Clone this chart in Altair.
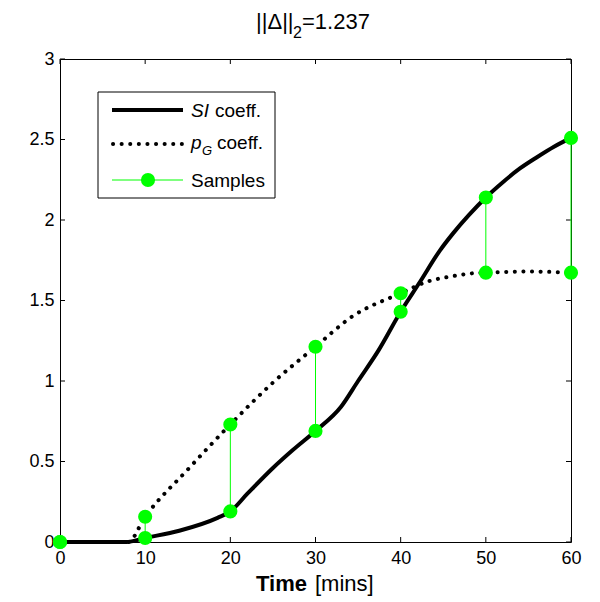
import altair as alt
import pandas as pd

# SI coefficient curve (solid)
si_t = [0, 7.8, 10, 14, 18.5, 20, 22, 25, 27.3, 30, 33, 35, 37.4, 40, 42.2, 44.6, 46.2, 48, 50, 52, 54, 56, 58, 60]
si_v = [0, 0, 0.025, 0.07, 0.15, 0.19, 0.30, 0.46, 0.57, 0.69, 0.84, 1.0, 1.19, 1.43, 1.61, 1.81, 1.92, 2.03, 2.14, 2.235, 2.32, 2.39, 2.455, 2.51]

# pG coefficient curve (dotted)
pg_t = [0, 8, 10, 15, 20, 25, 30, 34.3, 40, 43.3, 46, 48.7, 50, 55, 60]
pg_v = [0, 0, 0.157, 0.45, 0.73, 0.99, 1.213, 1.40, 1.545, 1.62, 1.65, 1.67, 1.673, 1.68, 1.673]

# Samples
sample_t = [0, 10, 20, 30, 40, 50, 60]
sample_si = [0, 0.025, 0.19, 0.69, 1.43, 2.14, 2.51]
sample_pg = [0, 0.157, 0.73, 1.213, 1.545, 1.673, 1.673]

x_ticks = [0, 10, 20, 30, 40, 50, 60]
y_ticks = [0, 0.5, 1, 1.5, 2, 2.5, 3]

W, H = 511, 483
FONT = "Liberation Sans"
GREEN = "#00ff00"

xs = alt.Scale(domain=[0, 60], nice=False)
ys = alt.Scale(domain=[0, 3], nice=False)

si_df = pd.DataFrame({"t": si_t, "v": si_v})
pg_df = pd.DataFrame({"t": pg_t, "v": pg_v})
samp_df = pd.DataFrame({"t": sample_t, "si": sample_si, "pg": sample_pg})
pts_df = pd.DataFrame({"t": sample_t + sample_t, "v": sample_si + sample_pg})
xt_df = pd.DataFrame({"t": x_ticks})
yt_df = pd.DataFrame({"v": y_ticks})
one = pd.DataFrame({"a": [0]})

base_axes = alt.Chart(si_df).mark_line(strokeWidth=0, opacity=0).encode(
    x=alt.X("t:Q", scale=xs, axis=alt.Axis(values=x_ticks, title=None, labelPadding=7,
                                           format="~g", labelFlush=False)),
    y=alt.Y("v:Q", scale=ys, axis=alt.Axis(values=y_ticks, title=None, labelPadding=6,
                                           format="~g", labelFlush=False)),
)

si_line = alt.Chart(si_df).mark_line(color="black", strokeWidth=4, interpolate="monotone").encode(
    x=alt.X("t:Q", scale=xs), y=alt.Y("v:Q", scale=ys)
)
pg_line = alt.Chart(pg_df).mark_line(
    color="black", strokeWidth=4, strokeDash=[0.1, 8.5], strokeCap="round", interpolate="monotone"
).encode(x=alt.X("t:Q", scale=xs), y=alt.Y("v:Q", scale=ys))

stems = alt.Chart(samp_df).mark_rule(color=GREEN, strokeWidth=1).encode(
    x=alt.X("t:Q", scale=xs), y=alt.Y("si:Q", scale=ys), y2="pg:Q"
)
pts = alt.Chart(pts_df).mark_circle(color=GREEN, opacity=1, size=200).encode(
    x=alt.X("t:Q", scale=xs), y=alt.Y("v:Q", scale=ys)
)

# inward ticks
tk = 5
xb = alt.Chart(xt_df).mark_rule(color="black", strokeWidth=1).encode(
    x=alt.X("t:Q", scale=xs), y=alt.value(H), y2=alt.value(H - tk))
xtp = alt.Chart(xt_df).mark_rule(color="black", strokeWidth=1).encode(
    x=alt.X("t:Q", scale=xs), y=alt.value(0), y2=alt.value(tk))
yl = alt.Chart(yt_df).mark_rule(color="black", strokeWidth=1).encode(
    y=alt.Y("v:Q", scale=ys), x=alt.value(0), x2=alt.value(tk))
yr = alt.Chart(yt_df).mark_rule(color="black", strokeWidth=1).encode(
    y=alt.Y("v:Q", scale=ys), x=alt.value(W), x2=alt.value(W - tk))

def txt(s, x, y, size, **kw):
    return alt.Chart(one).mark_text(
        text=s, font=FONT, fontSize=size, align="left", baseline="alphabetic", color="black", **kw
    ).encode(x=alt.value(x), y=alt.value(y))

# Title ||Δ||_2=1.237
t1 = txt("||Δ||", 196, -30, 22)
t2 = txt("2", 233, -21, 16)
t3 = txt("=1.237", 242, -30, 22)

# X axis title
xt1 = txt("Time", 196, 49 + H, 22, fontWeight="bold")
xt2 = txt("[mins]", 255, 49 + H, 22)

# Legend
box = alt.Chart(one).mark_rect(fill="white", stroke="black", strokeWidth=1).encode(
    x=alt.value(38), x2=alt.value(215), y=alt.value(33), y2=alt.value(139))
lg1 = alt.Chart(one).mark_rule(color="black", strokeWidth=4).encode(
    x=alt.value(52), x2=alt.value(123), y=alt.value(51))
lg2 = alt.Chart(one).mark_rule(color="black", strokeWidth=4, strokeDash=[0.1, 8.5], strokeCap="round").encode(
    x=alt.value(53), x2=alt.value(123), y=alt.value(85))
lg3 = alt.Chart(one).mark_rule(color=GREEN, strokeWidth=1).encode(
    x=alt.value(52), x2=alt.value(123), y=alt.value(121))
lg3p = alt.Chart(one).mark_circle(color=GREEN, opacity=1, size=200).encode(
    x=alt.value(88), y=alt.value(121))
lt1a = txt("SI", 131, 58, 19, fontStyle="italic")
lt1b = txt("coeff.", 155, 58, 19)
lt2a = txt("p", 131, 90, 19, fontStyle="italic")
lt2b = txt("G", 142, 96, 13, fontStyle="italic")
lt2c = txt("coeff.", 157, 90, 19)
lt3 = txt("Samples", 131, 128, 19)

chart = alt.layer(
    base_axes, xb, xtp, yl, yr, pg_line, si_line, stems, pts,
    box, lg1, lg2, lg3, lg3p, lt1a, lt1b, lt2a, lt2b, lt2c, lt3,
    t1, t2, t3, xt1, xt2,
).properties(
    width=W, height=H,
    autosize=alt.AutoSizeParams(type="none"),
    padding={"left": 52, "top": 51, "right": 20, "bottom": 58},
).configure_view(
    stroke="black", strokeWidth=1
).configure_axis(
    grid=False, ticks=False, domain=False, labelFont=FONT, labelFontSize=18, labelColor="black"
)

chart.save("out.html", embed_options={"renderer": "svg", "actions": False})
